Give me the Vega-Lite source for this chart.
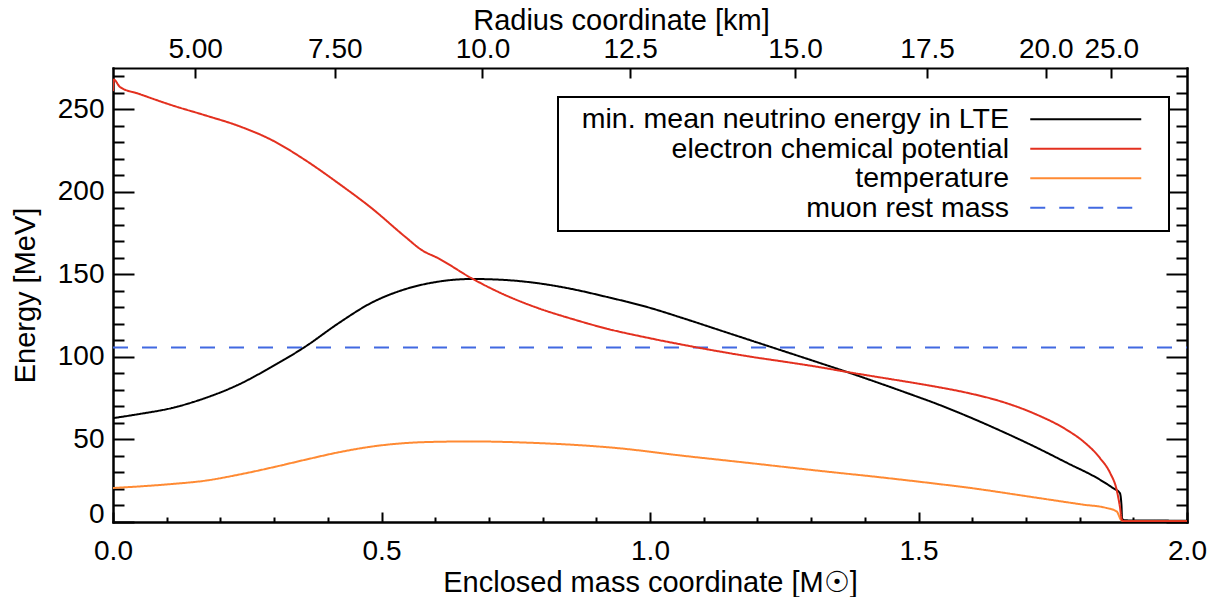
{
  "$schema": "https://vega.github.io/schema/vega-lite/v6.json",
  "width": 1074,
  "height": 454,
  "autosize": {"type": "none"},
  "padding": {"left": 113, "top": 68, "right": 23, "bottom": 75},
  "background": "white",
  "data": {
    "values": [
      {"m": 0.0, "E": 105.66, "s": "muon rest mass"},
      {"m": 2.0, "E": 105.66, "s": "muon rest mass"},

      {"m": 0.0, "E": 62.9, "s": "min. mean neutrino energy in LTE"},
      {"m": 0.047, "E": 65.3, "s": "min. mean neutrino energy in LTE"},
      {"m": 0.109, "E": 69.0, "s": "min. mean neutrino energy in LTE"},
      {"m": 0.171, "E": 75.0, "s": "min. mean neutrino energy in LTE"},
      {"m": 0.233, "E": 83.1, "s": "min. mean neutrino energy in LTE"},
      {"m": 0.296, "E": 94.1, "s": "min. mean neutrino energy in LTE"},
      {"m": 0.358, "E": 106.2, "s": "min. mean neutrino energy in LTE"},
      {"m": 0.42, "E": 120.4, "s": "min. mean neutrino energy in LTE"},
      {"m": 0.482, "E": 132.9, "s": "min. mean neutrino energy in LTE"},
      {"m": 0.544, "E": 141.0, "s": "min. mean neutrino energy in LTE"},
      {"m": 0.606, "E": 145.6, "s": "min. mean neutrino energy in LTE"},
      {"m": 0.668, "E": 147.2, "s": "min. mean neutrino energy in LTE"},
      {"m": 0.73, "E": 146.6, "s": "min. mean neutrino energy in LTE"},
      {"m": 0.792, "E": 144.6, "s": "min. mean neutrino energy in LTE"},
      {"m": 0.855, "E": 141.1, "s": "min. mean neutrino energy in LTE"},
      {"m": 0.916, "E": 136.6, "s": "min. mean neutrino energy in LTE"},
      {"m": 1.0, "E": 129.7, "s": "min. mean neutrino energy in LTE"},
      {"m": 1.062, "E": 123.4, "s": "min. mean neutrino energy in LTE"},
      {"m": 1.124, "E": 116.8, "s": "min. mean neutrino energy in LTE"},
      {"m": 1.186, "E": 110.2, "s": "min. mean neutrino energy in LTE"},
      {"m": 1.248, "E": 103.6, "s": "min. mean neutrino energy in LTE"},
      {"m": 1.31, "E": 97.0, "s": "min. mean neutrino energy in LTE"},
      {"m": 1.372, "E": 90.3, "s": "min. mean neutrino energy in LTE"},
      {"m": 1.434, "E": 83.3, "s": "min. mean neutrino energy in LTE"},
      {"m": 1.496, "E": 76.1, "s": "min. mean neutrino energy in LTE"},
      {"m": 1.528, "E": 72.3, "s": "min. mean neutrino energy in LTE"},
      {"m": 1.59, "E": 64.2, "s": "min. mean neutrino energy in LTE"},
      {"m": 1.652, "E": 55.4, "s": "min. mean neutrino energy in LTE"},
      {"m": 1.714, "E": 46.0, "s": "min. mean neutrino energy in LTE"},
      {"m": 1.776, "E": 35.9, "s": "min. mean neutrino energy in LTE"},
      {"m": 1.838, "E": 25.6, "s": "min. mean neutrino energy in LTE"},
      {"m": 1.862, "E": 20.6, "s": "min. mean neutrino energy in LTE"},
      {"m": 1.875, "E": 17.5, "s": "min. mean neutrino energy in LTE"},
      {"m": 1.878, "E": 10.0, "s": "min. mean neutrino energy in LTE"},
      {"m": 1.879, "E": 2.0, "s": "min. mean neutrino energy in LTE"},
      {"m": 1.885, "E": 1.0, "s": "min. mean neutrino energy in LTE"},
      {"m": 2.0, "E": 0.8, "s": "min. mean neutrino energy in LTE"},

      {"m": 0.0, "E": 20.6, "s": "temperature"},
      {"m": 0.109, "E": 23.0, "s": "temperature"},
      {"m": 0.171, "E": 25.0, "s": "temperature"},
      {"m": 0.233, "E": 28.6, "s": "temperature"},
      {"m": 0.296, "E": 33.0, "s": "temperature"},
      {"m": 0.358, "E": 37.7, "s": "temperature"},
      {"m": 0.42, "E": 42.2, "s": "temperature"},
      {"m": 0.482, "E": 45.7, "s": "temperature"},
      {"m": 0.544, "E": 47.8, "s": "temperature"},
      {"m": 0.606, "E": 48.6, "s": "temperature"},
      {"m": 0.668, "E": 48.8, "s": "temperature"},
      {"m": 0.73, "E": 48.5, "s": "temperature"},
      {"m": 0.792, "E": 47.8, "s": "temperature"},
      {"m": 0.855, "E": 46.8, "s": "temperature"},
      {"m": 0.938, "E": 44.8, "s": "temperature"},
      {"m": 1.062, "E": 40.1, "s": "temperature"},
      {"m": 1.186, "E": 35.7, "s": "temperature"},
      {"m": 1.31, "E": 31.2, "s": "temperature"},
      {"m": 1.434, "E": 26.9, "s": "temperature"},
      {"m": 1.558, "E": 22.2, "s": "temperature"},
      {"m": 1.59, "E": 20.9, "s": "temperature"},
      {"m": 1.714, "E": 15.0, "s": "temperature"},
      {"m": 1.807, "E": 10.5, "s": "temperature"},
      {"m": 1.85, "E": 8.5, "s": "temperature"},
      {"m": 1.869, "E": 6.4, "s": "temperature"},
      {"m": 1.878, "E": 1.0, "s": "temperature"},
      {"m": 1.885, "E": 0.5, "s": "temperature"},
      {"m": 2.0, "E": 0.5, "s": "temperature"},

      {"m": 0.0, "E": 261.0, "s": "electron chemical potential"},
      {"m": 0.0015, "E": 268.0, "s": "electron chemical potential"},
      {"m": 0.013, "E": 263.5, "s": "electron chemical potential"},
      {"m": 0.047, "E": 259.5, "s": "electron chemical potential"},
      {"m": 0.109, "E": 252.5, "s": "electron chemical potential"},
      {"m": 0.171, "E": 246.4, "s": "electron chemical potential"},
      {"m": 0.233, "E": 240.0, "s": "electron chemical potential"},
      {"m": 0.296, "E": 231.3, "s": "electron chemical potential"},
      {"m": 0.358, "E": 219.2, "s": "electron chemical potential"},
      {"m": 0.42, "E": 205.1, "s": "electron chemical potential"},
      {"m": 0.482, "E": 190.0, "s": "electron chemical potential"},
      {"m": 0.544, "E": 172.8, "s": "electron chemical potential"},
      {"m": 0.575, "E": 164.7, "s": "electron chemical potential"},
      {"m": 0.606, "E": 159.7, "s": "electron chemical potential"},
      {"m": 0.668, "E": 147.6, "s": "electron chemical potential"},
      {"m": 0.73, "E": 137.5, "s": "electron chemical potential"},
      {"m": 0.792, "E": 129.5, "s": "electron chemical potential"},
      {"m": 0.855, "E": 123.0, "s": "electron chemical potential"},
      {"m": 0.916, "E": 117.4, "s": "electron chemical potential"},
      {"m": 1.0, "E": 111.3, "s": "electron chemical potential"},
      {"m": 1.062, "E": 107.3, "s": "electron chemical potential"},
      {"m": 1.124, "E": 103.6, "s": "electron chemical potential"},
      {"m": 1.186, "E": 100.2, "s": "electron chemical potential"},
      {"m": 1.248, "E": 97.2, "s": "electron chemical potential"},
      {"m": 1.31, "E": 94.1, "s": "electron chemical potential"},
      {"m": 1.372, "E": 90.6, "s": "electron chemical potential"},
      {"m": 1.434, "E": 87.3, "s": "electron chemical potential"},
      {"m": 1.496, "E": 84.0, "s": "electron chemical potential"},
      {"m": 1.528, "E": 82.2, "s": "electron chemical potential"},
      {"m": 1.59, "E": 78.3, "s": "electron chemical potential"},
      {"m": 1.652, "E": 73.2, "s": "electron chemical potential"},
      {"m": 1.714, "E": 65.9, "s": "electron chemical potential"},
      {"m": 1.776, "E": 55.8, "s": "electron chemical potential"},
      {"m": 1.807, "E": 48.8, "s": "electron chemical potential"},
      {"m": 1.838, "E": 38.7, "s": "electron chemical potential"},
      {"m": 1.857, "E": 29.6, "s": "electron chemical potential"},
      {"m": 1.869, "E": 19.5, "s": "electron chemical potential"},
      {"m": 1.875, "E": 9.4, "s": "electron chemical potential"},
      {"m": 1.879, "E": 1.0, "s": "electron chemical potential"},
      {"m": 1.885, "E": 0.5, "s": "electron chemical potential"},
      {"m": 2.0, "E": 0.5, "s": "electron chemical potential"}
    ]
  },
  "resolve": {"axis": {"x": "independent", "y": "independent"}},
  "layer": [
    {
      "mark": {"type": "line", "strokeWidth": 2, "clip": true, "interpolate": "monotone"},
      "encoding": {
        "x": {
          "field": "m", "type": "quantitative",
          "scale": {"domain": [0, 2], "nice": false, "zero": false},
          "axis": {
            "orient": "bottom", "values": [0, 0.5, 1, 1.5, 2], "format": ".1f",
            "tickSize": -10, "labelPadding": 25, "labelFlush": false,
            "title": "Enclosed mass coordinate [M☉]", "titleY": 46, "titleBaseline": "top"
          }
        },
        "y": {
          "field": "E", "type": "quantitative",
          "scale": {"domain": [0, 275], "nice": false, "zero": false},
          "axis": {
            "orient": "left", "values": [0, 50, 100, 150, 200, 250],
            "tickSize": -21, "labelPadding": 30, "labelFlush": true, "labelFlushOffset": 6,
            "title": "Energy [MeV]", "titleX": -88, "titleY": 227, "titleBaseline": "middle", "titleAngle": -90
          }
        },
        "color": {
          "field": "s", "type": "nominal",
          "scale": {
            "domain": ["min. mean neutrino energy in LTE", "electron chemical potential", "temperature", "muon rest mass"],
            "range": ["#000000", "#e3301f", "#ff8a33", "#4169e1"]
          },
          "legend": {"title": null}
        },
        "strokeDash": {
          "field": "s", "type": "nominal",
          "scale": {
            "domain": ["min. mean neutrino energy in LTE", "electron chemical potential", "temperature", "muon rest mass"],
            "range": [[1, 0], [1, 0], [1, 0], [15, 14]]
          },
          "legend": {"title": null}
        }
      }
    },
    {
      "mark": {"type": "point", "opacity": 0, "size": 0},
      "encoding": {
        "x": {
          "field": "m", "type": "quantitative",
          "scale": {"domain": [0, 2], "nice": false, "zero": false},
          "axis": {
            "orient": "bottom", "values": [0.1, 0.2, 0.3, 0.4, 0.6, 0.7, 0.8, 0.9, 1.1, 1.2, 1.3, 1.4, 1.6, 1.7, 1.8, 1.9],
            "tickSize": -5, "labels": false, "title": null
          }
        },
        "y": {
          "field": "E", "type": "quantitative",
          "scale": {"domain": [0, 275], "nice": false, "zero": false},
          "axis": {
            "orient": "left", "values": [10, 20, 30, 40, 60, 70, 80, 90, 110, 120, 130, 140, 160, 170, 180, 190, 210, 220, 230, 240, 260, 270],
            "tickSize": -11, "labels": false, "title": null
          }
        }
      }
    },
    {
      "mark": {"type": "point", "opacity": 0, "size": 0},
      "encoding": {
        "x": {
          "field": "m", "type": "quantitative",
          "scale": {"domain": [0, 2], "nice": false, "zero": false},
          "axis": {
            "orient": "top", "values": [0.153, 0.413, 0.688, 0.963, 1.27, 1.516, 1.737, 1.859],
            "labelExpr": "datum.value < 0.3 ? '5.00' : datum.value < 0.55 ? '7.50' : datum.value < 0.8 ? '10.0' : datum.value < 1.1 ? '12.5' : datum.value < 1.4 ? '15.0' : datum.value < 1.6 ? '17.5' : datum.value < 1.8 ? '20.0' : '25.0'",
            "tickSize": -10, "labelPadding": 15, "labelFlush": false, "labelOverlap": false,
            "title": "Radius coordinate [km]", "titleX": 508, "titleY": -33, "titleBaseline": "bottom"
          }
        },
        "y": {
          "field": "E", "type": "quantitative",
          "scale": {"domain": [0, 275], "nice": false, "zero": false},
          "axis": {
            "orient": "right", "values": [0, 50, 100, 150, 200, 250],
            "tickSize": -21, "labels": false, "title": null
          }
        }
      }
    },
    {
      "mark": {"type": "point", "opacity": 0, "size": 0},
      "encoding": {
        "x": {
          "field": "m", "type": "quantitative",
          "scale": {"domain": [0, 2], "nice": false, "zero": false},
          "axis": null
        },
        "y": {
          "field": "E", "type": "quantitative",
          "scale": {"domain": [0, 275], "nice": false, "zero": false},
          "axis": {
            "orient": "right", "values": [10, 20, 30, 40, 60, 70, 80, 90, 110, 120, 130, 140, 160, 170, 180, 190, 210, 220, 230, 240, 260, 270],
            "tickSize": -11, "labels": false, "title": null
          }
        }
      }
    }
  ],
  "config": {
    "view": {"stroke": null},
    "font": "Liberation Sans",
    "axis": {
      "grid": false,
      "domainColor": "#000000",
      "domainWidth": 2,
      "domainCap": "square",
      "tickColor": "#000000",
      "tickWidth": 2,
      "labelColor": "#000000",
      "labelFont": "Liberation Sans",
      "labelFontSize": 28,
      "labelBound": false,
      "titleColor": "#000000",
      "titleFont": "Liberation Sans",
      "titleFontSize": 29,
      "titleFontWeight": "normal"
    },
    "legend": {
      "orient": "none",
      "legendX": 445,
      "legendY": 29,
      "padding": 8,
      "strokeColor": "#000000",
      "strokeWidth": 2,
      "fillColor": "#ffffff",
      "rowPadding": 0.5,
      "symbolType": "M90,0H112.2M115.2,0",
      "symbolSize": 100,
      "symbolStrokeWidth": 2,
      "labelFont": "Liberation Sans",
      "labelFontSize": 28.5,
      "labelColor": "#000000",
      "labelAlign": "right",
      "labelOffset": 414.5,
      "labelLimit": 700
    }
  }
}
